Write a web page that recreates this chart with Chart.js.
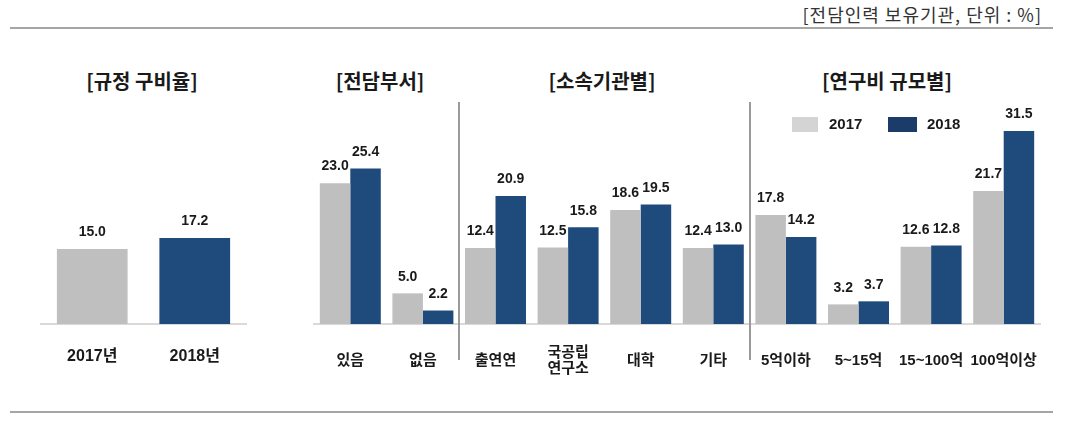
<!DOCTYPE html>
<html>
<head>
<meta charset="utf-8">
<script src="https://cdn.jsdelivr.net/npm/chart.js@4.4.1/dist/chart.umd.min.js"></script>
<style>
    body { margin: 0; background: #fff; }
    #wrap { position: relative; width: 1072px; height: 440px; overflow: hidden; font-family: "Noto Sans CJK KR", sans-serif; color: #1a1a1a; }
    .rule { position: absolute; left: 10px; width: 1043px; height: 2px; background: #a6a6a6; }
    .note { position: absolute; right: 30px; top: 2px; font-size: 18px; letter-spacing: 1px; color: #333; line-height: 24px; }
    .title { position: absolute; top: 67px; font-size: 20px; font-weight: bold; line-height: 28px; transform: translateX(-50%); white-space: nowrap; }
    canvas { position: absolute; top: 0; }
    .lg-box { position: absolute; top: 117px; height: 15px; }
    .lg-txt { position: absolute; top: 113px; font: bold 15px "Liberation Sans", sans-serif; line-height: 22px; }
</style>
</head>
<body>
<div id="wrap">
    <div class="note">[전담인력 보유기관, 단위 : %]</div>
    <div class="rule" style="top:27px"></div>
    <div class="rule" style="top:411px"></div>
    <div class="title" style="left:142px">[규정 구비율]</div>
    <div class="title" style="left:380px">[전담부서]</div>
    <div class="title" style="left:602px">[소속기관별]</div>
    <div class="title" style="left:887px">[연구비 규모별]</div>
    <canvas id="c1" width="270" height="400" style="left:0"></canvas>
    <canvas id="c2" width="792" height="400" style="left:280px"></canvas>
    <div class="lg-box" style="left:792px;width:26px;background:#d4d4d4"></div>
    <div class="lg-txt" style="left:829px">2017</div>
    <div class="lg-box" style="left:888px;width:29px;background:#1b3b68"></div>
    <div class="lg-txt" style="left:927px">2018</div>
</div>
<script>
// data
const yearCats = ['2017년', '2018년'];
const ruleRate = [15.0, 17.2];

const groupCats = ['있음', '없음', '출연연', ['국공립', '연구소'], '대학', '기타',
    '5억이하', '5~15억', '15~100억', '100억이상'];
const val2017 = [23.0, 5.0, 12.4, 12.5, 18.6, 12.4, 17.8, 3.2, 12.6, 21.7];
const val2018 = [25.4, 2.2, 20.9, 15.8, 19.5, 13.0, 14.2, 3.7, 12.8, 31.5];
const groupBreaks = [1, 5]; // separator after these category indexes

const GRAY = '#bfbfbf';
const BLUE = '#1f4a7c';
const FONT = '"Liberation Sans", "Noto Sans CJK KR", sans-serif';

// value labels above every bar
const valueLabels = {
    id: 'valueLabels',
    afterDatasetsDraw(chart) {
        const ctx = chart.ctx;
        ctx.save();
        ctx.font = 'bold 14px ' + FONT;
        ctx.fillStyle = '#1a1a1a';
        ctx.textAlign = 'center';
        ctx.textBaseline = 'middle';
        chart.data.datasets.forEach((ds, i) => {
            chart.getDatasetMeta(i).data.forEach((bar, j) => {
                ctx.fillText(ds.data[j].toFixed(1), bar.x, bar.y - 16.5);
            });
        });
        ctx.restore();
    }
};

// vertical separators between the groups
const separators = {
    id: 'separators',
    afterDraw(chart) {
        const xs = chart.scales.x;
        const ctx = chart.ctx;
        ctx.save();
        ctx.strokeStyle = '#9a9a9a';
        ctx.lineWidth = 2;
        groupBreaks.forEach(k => {
            const x = Math.round((xs.getPixelForValue(k) + xs.getPixelForValue(k + 1)) / 2);
            ctx.beginPath();
            ctx.moveTo(x, 102);
            ctx.lineTo(x, 360);
            ctx.stroke();
        });
        ctx.restore();
    }
};

function xAxis(size, pad) {
    return {
        grid: { display: false },
        border: { display: true, color: '#d9d9d9', width: 2 },
        ticks: {
            color: '#1a1a1a',
            font: { family: FONT, size: size, weight: 'bold', lineHeight: 1.07 },
            padding: pad,
            crossAlign: 'center',
            maxRotation: 0,
            autoSkip: false
        },
        afterFit(scale) { scale.height = 76; }
    };
}

function baseOptions(pad, size, tickPad) {
    return {
        responsive: false,
        animation: false,
        layout: { padding: pad },
        plugins: { legend: { display: false }, tooltip: { enabled: false } },
        scales: {
            x: xAxis(size, tickPad),
            y: { display: false, min: 0, max: 40 }
        }
    };
}

new Chart(document.getElementById('c1'), {
    type: 'bar',
    data: {
        labels: yearCats,
        datasets: [{
            data: ruleRate,
            backgroundColor: [GRAY, BLUE],
            barPercentage: 0.69,
            categoryPercentage: 1
        }]
    },
    options: baseOptions({ left: 41, right: 24, top: 124, bottom: 0 }, 16, 25),
    plugins: [valueLabels]
});

new Chart(document.getElementById('c2'), {
    type: 'bar',
    data: {
        labels: groupCats,
        datasets: [
            { label: '2017', data: val2017, backgroundColor: GRAY, barPercentage: 1, categoryPercentage: 0.84 },
            { label: '2018', data: val2018, backgroundColor: BLUE, barPercentage: 1, categoryPercentage: 0.84 }
        ]
    },
    options: baseOptions({ left: 34, right: 32, top: 79, bottom: 0 }, 15, 21),
    plugins: [valueLabels, separators]
});
</script>
</body>
</html>
